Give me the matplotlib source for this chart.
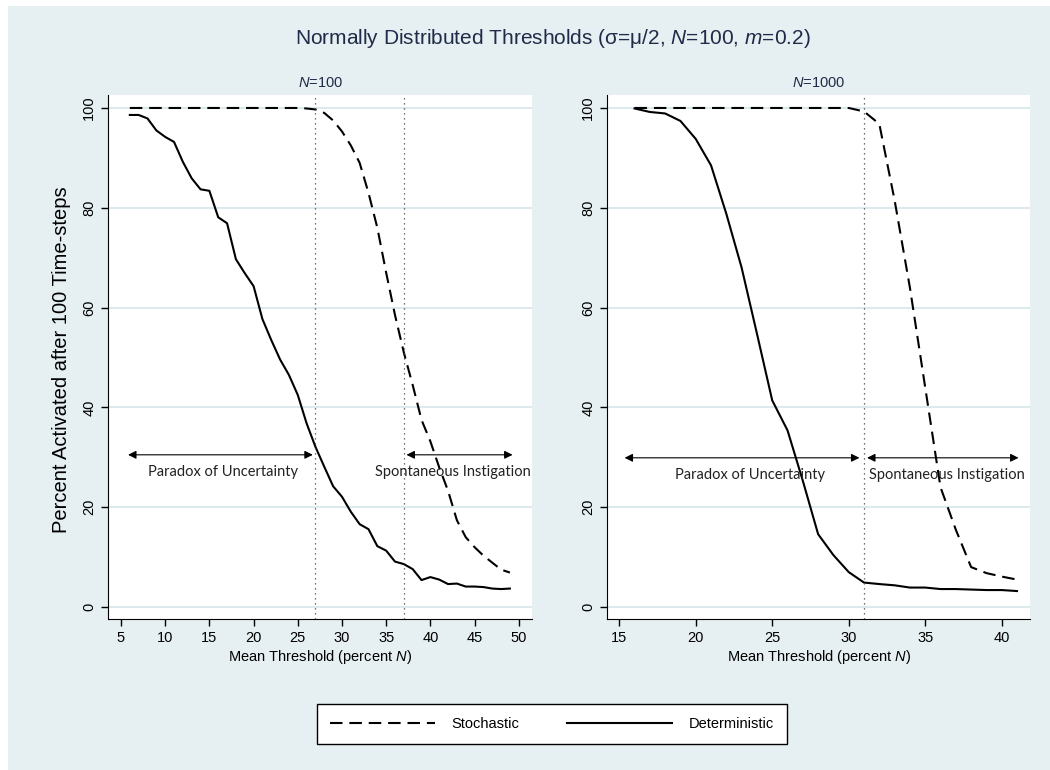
import matplotlib
matplotlib.use('Agg')
import matplotlib.pyplot as plt
from matplotlib.patches import Rectangle

plt.rcParams['font.family'] = ['Liberation Sans', 'DejaVu Sans']
plt.rcParams['mathtext.fontset'] = 'custom'
plt.rcParams['mathtext.rm'] = 'Liberation Sans'
plt.rcParams['mathtext.it'] = 'Liberation Sans:italic'

# N=100 panel
x100 = list(range(6, 50))
det100 = [98.6, 98.6, 97.9, 95.5, 94.2, 93.2, 89.2, 85.9, 83.7, 83.4,
          78.1, 76.9, 69.7, 66.9, 64.3, 57.7, 53.5, 49.6, 46.5, 42.5,
          36.8, 32.1, 28.1, 24.2, 22.1, 19.1, 16.6, 15.6, 12.2, 11.3,
          9.1, 8.6, 7.6, 5.4, 6.0, 5.5, 4.6, 4.7, 4.1, 4.1,
          4.0, 3.7, 3.6, 3.7]
sto100 = [100.0] * 20 + [99.9, 99.7, 99.0, 97.5, 95.3, 92.5, 89.0, 83.0,
                         76.0, 67.0, 58.5, 51.0, 44.5, 37.5, 33.2, 28.0,
                         23.3, 17.4, 14.0, 12.0, 10.3, 8.9, 7.5, 6.9]

# N=1000 panel
x1000 = list(range(16, 42))
det1000 = [99.9, 99.2, 98.9, 97.4, 93.8, 88.5, 78.8, 68.0, 54.8, 41.4,
           35.4, 25.3, 14.6, 10.4, 7.0, 4.9, 4.6, 4.35, 3.9, 3.9,
           3.6, 3.6, 3.5, 3.4, 3.4, 3.2]
sto1000 = [100.0] * 15 + [99.3, 96.8, 81.5, 64.0, 44.0, 24.0, 15.5, 8.0,
                          6.8, 6.1, 5.5]

bg = '#e6eff1'
grid_c = '#dde9ec'
navy = '#1f2b48'
dash = (0, (6, 3.3))

fig = plt.figure(figsize=(10.5, 7.7), dpi=100, facecolor='white')
fig.patches.append(Rectangle((8 / 1050, 0), 1, 1 - 6 / 770, transform=fig.transFigure,
                             facecolor=bg, edgecolor='none', zorder=-10))

ax1 = fig.add_axes((108 / 1050, 1 - 619 / 770, 424 / 1050, 524 / 770))
ax2 = fig.add_axes((607 / 1050, 1 - 619 / 770, 423 / 1050, 524 / 770))

panels = [
    (ax1, x100, sto100, det100, (3.53, 51.5), range(5, 51, 5), [27, 37], 'N=100',
     [((5.8, 30.5), (26.7, 30.5), 16.5, 'Paradox of Uncertainty'),
      ((37.3, 30.5), (49.3, 30.5), 42.6, 'Spontaneous Instigation')]),
    (ax2, x1000, sto1000, det1000, (14.2, 41.85), range(15, 41, 5), [31], 'N=1000',
     [((15.35, 29.9), (30.7, 29.9), 23.55, 'Paradox of Uncertainty'),
      ((31.2, 29.9), (41.1, 29.9), 36.4, 'Spontaneous Instigation')]),
]

for ax, xs, sto, det, xlim, xt, vl, sub, arrows in panels:
    ax.set_facecolor('white')
    ax.plot(xs, sto, color='black', lw=1.5, linestyle=dash, label='Stochastic')
    ax.plot(xs, det, color='black', lw=1.5, label='Deterministic')
    for v in vl:
        ax.axvline(v, color='#444444', lw=0.9, linestyle=(0, (1, 3)))
    for (x0, y0), (x1, y1), xc, txt in arrows:
        ax.annotate('', xy=(x1, y1), xytext=(x0, y0),
                    arrowprops=dict(arrowstyle='<|-|>', color='black', lw=0.8,
                                    mutation_scale=12, shrinkA=0, shrinkB=0))
        ax.text(xc, y0 - 3.4, txt, ha='center', va='center', fontsize=10.5,
                family=['Lato', 'DejaVu Sans'], color='#222222')
    ax.set_xlim(*xlim)
    ax.set_ylim(-2.4, 102.6)
    ax.set_xticks(list(xt))
    ax.set_yticks(range(0, 101, 20))
    ax.grid(axis='y', color=grid_c, lw=1.5)
    ax.set_axisbelow(True)
    for s in ['top', 'right']:
        ax.spines[s].set_visible(False)
    ax.tick_params(direction='out', length=5, width=1, labelsize=10.5)
    for lab in ax.get_yticklabels():
        lab.set_rotation(90)
        lab.set_va('center')
    ax.set_xlabel(r'Mean Threshold (percent $\mathit{N}$)', fontsize=10.5, labelpad=2)
    n, val = sub.split('=')
    ax.set_title(r'$\mathit{N}$=' + val, fontsize=10.5, color=navy, pad=6)

fig.text(62 / 1050, 1 - 360 / 770, 'Percent Activated after 100 Time-steps',
         rotation=90, ha='center', va='center', fontsize=14.5)
fig.text(553 / 1050, 1 - 38 / 770,
         r'Normally Distributed Thresholds (σ=μ/2, $\mathit{N}$=100, $\mathit{m}$=0.2)',
         ha='center', va='center', fontsize=15, color=navy)

h, l = ax1.get_legend_handles_labels()
leg = fig.legend(h, l, loc='center', bbox_to_anchor=(552 / 1050, 1 - 724 / 770),
                 ncol=2, fontsize=10.5, handlelength=7.2, handletextpad=1.1,
                 columnspacing=3.3, frameon=True, fancybox=False, borderpad=0.9,
                 edgecolor='black', facecolor='white', framealpha=1)
leg.get_frame().set_linewidth(1)

plt.savefig('out.png', dpi=100, facecolor=fig.get_facecolor())
